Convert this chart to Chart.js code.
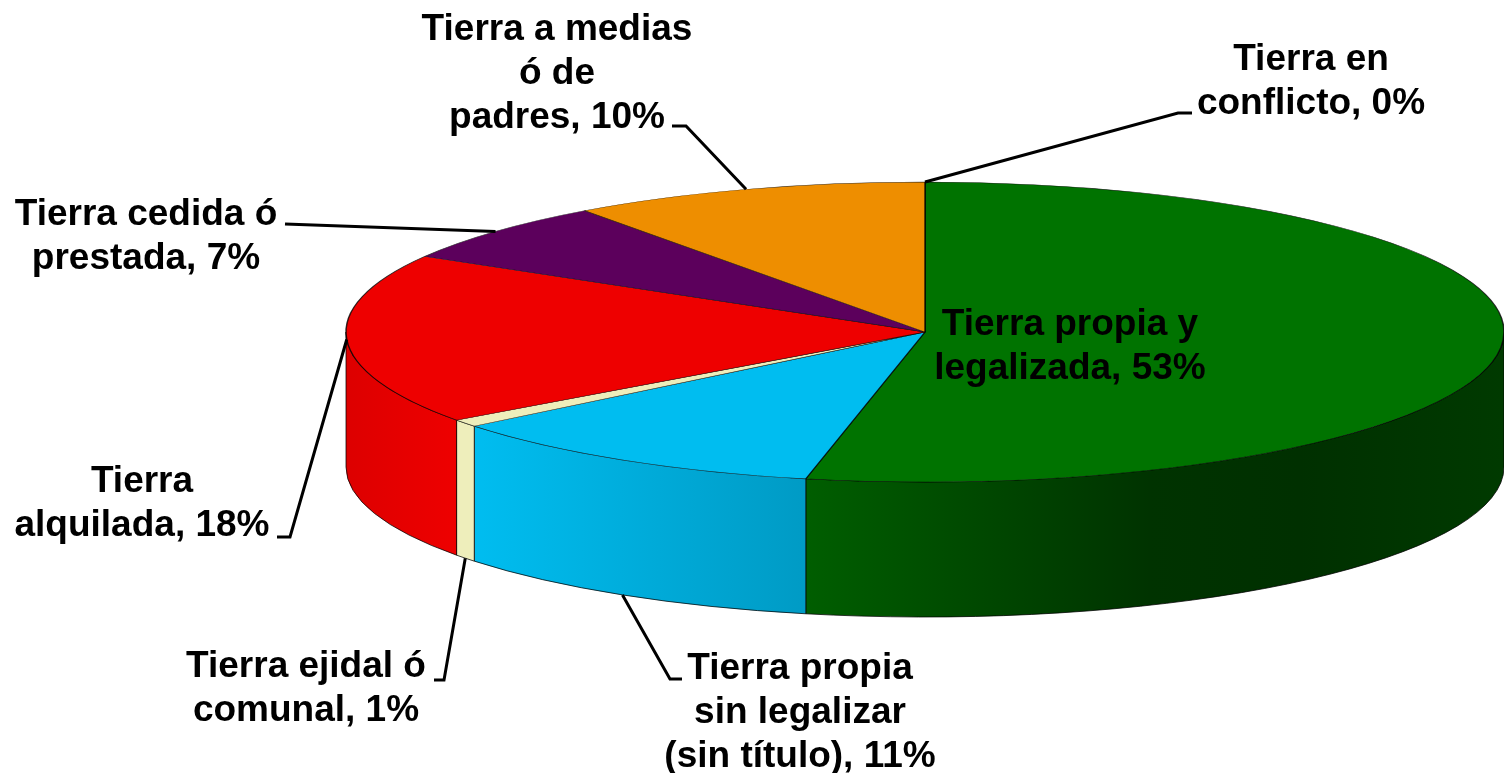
<!DOCTYPE html>
<html>
<head>
<meta charset="utf-8">
<title>Tenencia de la tierra</title>
<script src="https://cdn.jsdelivr.net/npm/chart.js@4/dist/chart.umd.min.js"></script>
<style>
    html, body { margin: 0; padding: 0; background: #fff; overflow: hidden; }
    canvas { display: block; }
</style>
</head>
<body>
<canvas id="myChart" width="1504" height="773"></canvas>
<script>
const categories = [
    "Tierra propia y\nlegalizada",
    "Tierra propia\nsin legalizar\n(sin título)",
    "Tierra ejidal ó\ncomunal",
    "Tierra\nalquilada",
    "Tierra cedida ó\nprestada",
    "Tierra a medias\nó de\npadres",
    "Tierra en\nconflicto",
];
// the labels show them rounded
const values = [53.3, 10.9, 0.8, 18.4, 6.6, 10, 0];
const colors = ["#007300", "#00bdf0", "#eeeebb", "#ee0000", "#5c005c", "#ee8e00", "#cccccc"];

// ellipse of the pie top and height of the side wall
const pie = { x: 925, y: 332, rx: 579, ry: 150, depth: 135 };

// side wall shading, [x on page, brightness]
const shade = [[346, 0.93], [456, 1], [474, 1], [805, 0.82], [1150, 0.44], [1300, 0.42], [1504, 0.5]];

// label centre + first baseline, and the leader line elbow points (null = label inside the pie)
const labelX = [1070, 800, 306, 142, 146, 557, 1311];
const labelY = [335, 679, 677, 492, 225, 40, 70];
const elbows = [
    null,
    [[670, 679], [682, 679]],
    [[444, 680], [434, 680]],
    [[290, 537], [277, 537]],
    [[285, 224]],
    [[686, 126], [672, 126]],
    [[1178, 113], [1192, 113]],
];

function scaleColor(hex, k) {
    let n = parseInt(hex.slice(1), 16);
    let r = Math.round(((n >> 16) & 255) * k);
    let g = Math.round(((n >> 8) & 255) * k);
    let b = Math.round((n & 255) * k);
    return "rgb(" + r + "," + g + "," + b + ")";
}

function drawWalls(ctx, arcs) {
    arcs.forEach(function (arc, i) {
        // only the front half of the pie shows a wall
        let a0 = arc.startAngle;
        let a1 = arc.endAngle;
        if (a0 > Math.PI) return;
        a0 = Math.max(a0, 0);
        a1 = Math.min(a1, Math.PI);
        if (a1 <= a0) return;

        let grad = ctx.createLinearGradient(pie.x - pie.rx, 0, pie.x + pie.rx, 0);
        shade.forEach(function (s) {
            grad.addColorStop((s[0] - (pie.x - pie.rx)) / (2 * pie.rx), scaleColor(colors[i], s[1]));
        });

        ctx.beginPath();
        ctx.ellipse(pie.x, pie.y, pie.rx, pie.ry, 0, a0, a1);
        ctx.ellipse(pie.x, pie.y + pie.depth, pie.rx, pie.ry, 0, a1, a0, true);
        ctx.closePath();
        ctx.fillStyle = grad;
        ctx.fill();
        ctx.lineWidth = 1;
        ctx.strokeStyle = "rgba(0,0,0,0.75)";
        ctx.stroke();
    });
}

const pie3d = {
    id: "pie3d",
    beforeDatasetsDraw(chart) {
        let ctx = chart.ctx;
        let arcs = chart.getDatasetMeta(0).data;
        drawWalls(ctx, arcs);
        // squash the library's round pie into the ellipse
        let first = arcs[0];
        ctx.save();
        ctx.translate(pie.x, pie.y);
        ctx.scale(pie.rx / first.outerRadius, pie.ry / first.outerRadius);
        ctx.translate(-first.x, -first.y);
    },
    afterDatasetsDraw(chart) {
        chart.ctx.restore();
    },
    afterDraw(chart) {
        let ctx = chart.ctx;
        let arcs = chart.getDatasetMeta(0).data;

        // leader lines start at the middle of each slice's outer edge
        ctx.strokeStyle = "#000";
        ctx.lineWidth = 3;
        ctx.lineJoin = "miter";
        arcs.forEach(function (arc, i) {
            if (!elbows[i]) return;
            let mid = (arc.startAngle + arc.endAngle) / 2;
            let x = pie.x + pie.rx * Math.cos(mid);
            let y = pie.y + pie.ry * Math.sin(mid);
            // slices fully in front hang the line on the wall bottom
            if (arc.startAngle >= 0 && arc.endAngle <= Math.PI) y += pie.depth;
            ctx.beginPath();
            ctx.moveTo(x, y);
            elbows[i].forEach(function (p) {
                ctx.lineTo(p[0], p[1]);
            });
            ctx.stroke();
        });

        ctx.fillStyle = "#000";
        ctx.font = "bold 37px 'Liberation Sans', Arial, sans-serif";
        ctx.textAlign = "center";
        ctx.textBaseline = "alphabetic";
        categories.forEach(function (cat, i) {
            let lines = (cat + ", " + Math.round(values[i]) + "%").split("\n");
            lines.forEach(function (line, j) {
                ctx.fillText(line, labelX[i], labelY[i] + j * 44);
            });
        });
    },
};

new Chart(document.getElementById("myChart"), {
    type: "pie",
    data: {
        labels: categories,
        datasets: [
            {
                data: values,
                backgroundColor: colors,
                borderColor: "rgba(0,0,0,0.8)",
                borderWidth: 1,
                clip: false,
            },
        ],
    },
    options: {
        responsive: false,
        animation: false,
        layout: { padding: 0 },
        plugins: {
            legend: { display: false },
            tooltip: { enabled: false },
        },
    },
    plugins: [pie3d],
});
</script>
</body>
</html>
